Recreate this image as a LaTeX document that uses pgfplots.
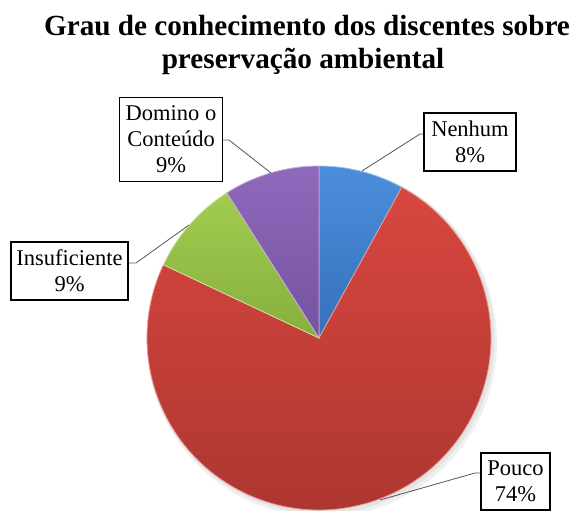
\documentclass[border=0pt]{standalone}
\usepackage{fontspec}
\setmainfont{Liberation Serif}
\usepackage{pgfplots}
\usepackage{pgfplotstable}
\pgfplotsset{compat=1.18}

\definecolor{bTop}{HTML}{4C8EDC}\definecolor{bBot}{HTML}{3670BA}
\definecolor{rTop}{HTML}{D8473F}\definecolor{rBot}{HTML}{AA3530}
\definecolor{gTop}{HTML}{A2CC50}\definecolor{gBot}{HTML}{86AF3D}
\definecolor{pTop}{HTML}{8F69BC}\definecolor{pBot}{HTML}{7453A0}
\definecolor{leader}{HTML}{555555}

\pgfplotstableread{
cat pct
Nenhum 8
Pouco 74
Insuficiente 9
Dominio 9
}\piedata

\newcommand{\pieslice}[4]{%
  \path[top color=#3, bottom color=#4, draw=white!45!#3, line width=0.8pt]
    (axis cs:319,338) -- ++(#1:172pt) arc[start angle=#1, end angle=#2, radius=172pt] -- cycle;}

\begin{document}
\begin{tikzpicture}
\pgfplotstablegetelem{0}{pct}\of\piedata \pgfmathsetmacro\pA{\pgfplotsretval}
\pgfplotstablegetelem{1}{pct}\of\piedata \pgfmathsetmacro\pB{\pgfplotsretval}
\pgfplotstablegetelem{2}{pct}\of\piedata \pgfmathsetmacro\pC{\pgfplotsretval}
\pgfplotstablegetelem{3}{pct}\of\piedata \pgfmathsetmacro\pD{\pgfplotsretval}
\pgfmathsetmacro\aO{90}
\pgfmathsetmacro\aA{\aO-3.6*\pA}
\pgfmathsetmacro\aB{\aA-3.6*\pB}
\pgfmathsetmacro\aC{\aB-3.6*\pC}
\pgfmathsetmacro\aD{\aC-3.6*\pD}
\begin{axis}[x=1pt, y=1pt, xmin=0, xmax=574, ymin=0, ymax=511, y dir=reverse,
  hide axis, clip=false, anchor=south west, at={(0,0)}]
  % soft shadow
  \fill[black, opacity=0.06] (axis cs:322,342) circle[radius=175pt];
  \fill[black, opacity=0.05] (axis cs:321,340) circle[radius=173.5pt];
  % slices
  \pieslice{\aO}{\aA}{bTop}{bBot}
  \pieslice{\aA}{\aB}{rTop}{rBot}
  \pieslice{\aB}{\aC}{gTop}{gBot}
  \pieslice{\aC}{\aD}{pTop}{pBot}
  % leader lines
  \draw[leader, line width=0.8pt] (axis cs:362,171) -- (axis cs:420,134) -- (axis cs:424,134);
  \draw[leader, line width=0.8pt] (axis cs:223,140) -- (axis cs:229,140) -- (axis cs:271,173);
  \draw[leader, line width=0.8pt] (axis cs:128,263) -- (axis cs:136,263) -- (axis cs:189,225);
  \draw[leader, line width=0.8pt] (axis cs:380,500) -- (axis cs:475,473) -- (axis cs:481,473);
  % label boxes
  \tikzset{lbl/.style={draw=black, line width=1.1pt, fill=white, align=center,
     inner sep=0pt, font=\fontsize{22.5}{26}\selectfont}}
  \node[lbl, minimum width=92pt, minimum height=58pt] at (axis cs:470,142) {Nenhum\\8\%};
  \node[lbl, minimum width=103pt, minimum height=84pt] at (axis cs:171,139.5) {Domino o\\Conteúdo\\9\%};
  \node[lbl, minimum width=117pt, minimum height=58pt] at (axis cs:69.5,271) {Insuficiente\\9\%};
  \node[lbl, minimum width=69pt, minimum height=57pt] at (axis cs:515.5,481.5) {Pouco\\74\%};
  % title
  \node[anchor=base, font=\bfseries\fontsize{29.2}{32}\selectfont] at (axis cs:307,35) {Grau de conhecimento dos discentes sobre};
  \node[anchor=base, font=\bfseries\fontsize{29.2}{32}\selectfont] at (axis cs:303,68.5) {preservação ambiental};
\end{axis}
\pgfresetboundingbox
\useasboundingbox (current axis.south west) rectangle (current axis.north east);
\end{tikzpicture}
\end{document}
